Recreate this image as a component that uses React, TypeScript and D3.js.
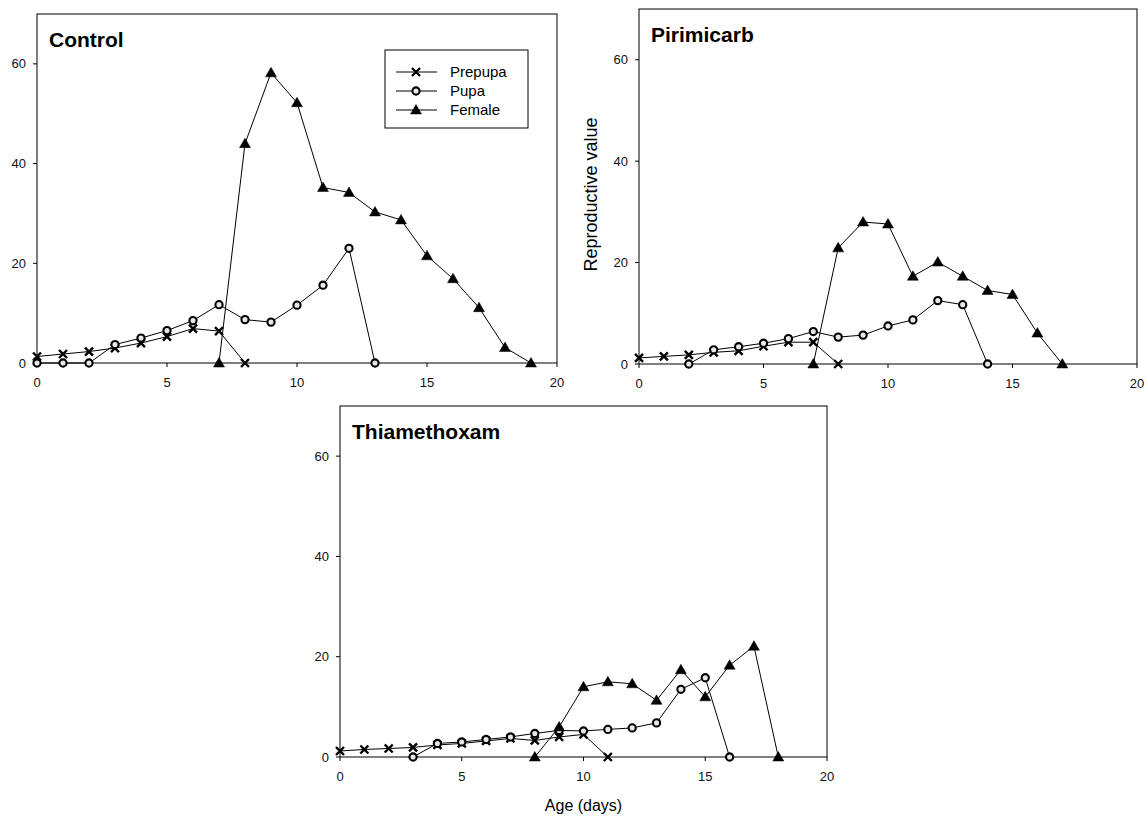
import React from "react";
import * as d3 from "d3";

const xTicks = [0, 5, 10, 15, 20];
const yTicks = [0, 20, 40, 60];
const stageNames = ["Prepupa", "Pupa", "Female"];

// Control
const controlPrepupaAge = [0, 1, 2, 3, 4, 5, 6, 7, 8];
const controlPrepupa = [1.3, 1.8, 2.3, 3.0, 4.0, 5.3, 6.9, 6.4, 0];
const controlPupaAge = [0, 1, 2, 3, 4, 5, 6, 7, 8, 9, 10, 11, 12, 13];
const controlPupa = [0, 0, 0, 3.7, 5.0, 6.5, 8.5, 11.7, 8.7, 8.2, 11.6, 15.6, 23.0, 0];
const controlFemaleAge = [7, 8, 9, 10, 11, 12, 13, 14, 15, 16, 17, 18, 19];
const controlFemale = [0, 44, 58.2, 52.2, 35.2, 34.2, 30.3, 28.7, 21.5, 16.9, 11.1, 3.1, 0];

// Pirimicarb
const pirimicarbPrepupaAge = [0, 1, 2, 3, 4, 5, 6, 7, 8];
const pirimicarbPrepupa = [1.2, 1.5, 1.8, 2.3, 2.6, 3.5, 4.3, 4.3, 0];
const pirimicarbPupaAge = [2, 3, 4, 5, 6, 7, 8, 9, 10, 11, 12, 13, 14];
const pirimicarbPupa = [0, 2.8, 3.4, 4.1, 5.0, 6.4, 5.3, 5.7, 7.5, 8.7, 12.5, 11.7, 0];
const pirimicarbFemaleAge = [7, 8, 9, 10, 11, 12, 13, 14, 15, 16, 17];
const pirimicarbFemale = [0, 22.9, 28.0, 27.6, 17.3, 20.1, 17.3, 14.5, 13.7, 6.1, 0];

// Thiamethoxam
const thiamethoxamPrepupaAge = [0, 1, 2, 3, 4, 5, 6, 7, 8, 9, 10, 11];
const thiamethoxamPrepupa = [1.2, 1.5, 1.7, 1.9, 2.4, 2.7, 3.2, 3.7, 3.3, 4.0, 4.5, 0];
const thiamethoxamPupaAge = [3, 4, 5, 6, 7, 8, 9, 10, 11, 12, 13, 14, 15, 16];
const thiamethoxamPupa = [0, 2.7, 3.0, 3.5, 4.0, 4.7, 5.3, 5.2, 5.5, 5.8, 6.8, 13.5, 15.8, 0];
const thiamethoxamFemaleAge = [8, 9, 10, 11, 12, 13, 14, 15, 16, 17, 18];
const thiamethoxamFemale = [0, 6.0, 14.0, 15.0, 14.6, 11.3, 17.4, 12.0, 18.3, 22.1, 0];

const FONT = "Arial, 'Liberation Sans', sans-serif";

const zip = (ages, vals) => ages.map((a, i) => [a, vals[i]]);

const Marker = ({ kind, x, y }) => {
  if (kind === "Prepupa") {
    const r = 4;
    return (
      <path
        d={`M${x - r},${y - r}L${x + r},${y + r}M${x - r},${y + r}L${x + r},${y - r}`}
        stroke="#000"
        strokeWidth={2.4}
        fill="none"
      />
    );
  }
  if (kind === "Pupa") {
    return <circle cx={x} cy={y} r={3.6} fill="#e8e8e8" stroke="#000" strokeWidth={2.1} />;
  }
  return (
    <path
      d={`M${x},${y - 5.5}L${x + 5.5},${y + 4}L${x - 5.5},${y + 4}Z`}
      fill="#000"
      stroke="#000"
      strokeWidth={0.5}
    />
  );
};

const Panel = ({ box, title, series, legend = false, yLabel = null, xLabel = null }) => {
  const x = d3.scaleLinear().domain([0, 20]).range([box.left, box.right]);
  const y = d3.scaleLinear().domain([0, 70]).range([box.bottom, box.top]);
  const line = d3
    .line()
    .x((d) => x(d[0]))
    .y((d) => y(d[1]));

  return (
    <g fontFamily={FONT}>
      {series.map((s, i) => (
        <path key={"l" + i} d={line(s.points)} fill="none" stroke="#000" strokeWidth={1} />
      ))}
      {/* frame */}
      <rect
        x={box.left}
        y={box.top}
        width={box.right - box.left}
        height={box.bottom - box.top}
        fill="none"
        stroke="#000"
        strokeWidth={1}
      />
      {yTicks.map((t) => (
        <g key={"y" + t}>
          <line x1={box.left - 4} x2={box.left} y1={y(t)} y2={y(t)} stroke="#000" />
          <text x={box.left - 11} y={y(t)} dy="0.35em" textAnchor="end" fontSize={13} fill="#111">
            {t}
          </text>
        </g>
      ))}
      {xTicks.map((t) => (
        <g key={"x" + t}>
          <line x1={x(t)} x2={x(t)} y1={box.bottom} y2={box.bottom + 4} stroke="#000" />
          <text x={x(t)} y={box.bottom + 19} dy="0.35em" textAnchor="middle" fontSize={13} fill="#111">
            {t}
          </text>
        </g>
      ))}
      {series.map((s, i) =>
        s.points.map((p, j) => <Marker key={`m${i}-${j}`} kind={s.name} x={x(p[0])} y={y(p[1])} />)
      )}
      <text x={box.left + 12} y={box.top + 33} fontSize={21} fontWeight="bold" fill="#000">
        {title}
      </text>
      {legend && (
        <g>
          <rect x={385} y={50} width={143} height={78} fill="#fff" stroke="#000" strokeWidth={1} />
          {stageNames.map((n, i) => (
            <g key={n}>
              <line x1={396} x2={437} y1={72 + i * 19} y2={72 + i * 19} stroke="#000" />
              <Marker kind={n} x={416} y={72 + i * 19} />
              <text x={450} y={72 + i * 19} dy="0.35em" fontSize={15} fill="#000">
                {n}
              </text>
            </g>
          ))}
        </g>
      )}
      {yLabel && (
        <text
          transform={`translate(${box.left - 48},${(box.top + box.bottom) / 2 + 8}) rotate(-90)`}
          textAnchor="middle"
          dy="0.35em"
          fontSize={18}
          fill="#000"
        >
          {yLabel}
        </text>
      )}
      {xLabel && (
        <text
          x={(box.left + box.right) / 2}
          y={box.bottom + 48}
          dy="0.35em"
          textAnchor="middle"
          fontSize={16}
          fill="#000"
        >
          {xLabel}
        </text>
      )}
    </g>
  );
};

export default function App() {
  const control = [
    { name: "Prepupa", points: zip(controlPrepupaAge, controlPrepupa) },
    { name: "Pupa", points: zip(controlPupaAge, controlPupa) },
    { name: "Female", points: zip(controlFemaleAge, controlFemale) },
  ];
  const pirimicarb = [
    { name: "Prepupa", points: zip(pirimicarbPrepupaAge, pirimicarbPrepupa) },
    { name: "Pupa", points: zip(pirimicarbPupaAge, pirimicarbPupa) },
    { name: "Female", points: zip(pirimicarbFemaleAge, pirimicarbFemale) },
  ];
  const thiamethoxam = [
    { name: "Prepupa", points: zip(thiamethoxamPrepupaAge, thiamethoxamPrepupa) },
    { name: "Pupa", points: zip(thiamethoxamPupaAge, thiamethoxamPupa) },
    { name: "Female", points: zip(thiamethoxamFemaleAge, thiamethoxamFemale) },
  ];

  return (
    <svg
      width={1145}
      height={816}
      style={{ position: "absolute", left: 0, top: 0, background: "#fff" }}
    >
      <rect width={1145} height={816} fill="#fff" />
      <Panel box={{ left: 37, top: 14, right: 557, bottom: 363 }} title="Control" series={control} legend />
      <Panel
        box={{ left: 639, top: 9, right: 1137, bottom: 364 }}
        title="Pirimicarb"
        series={pirimicarb}
        yLabel="Reproductive value"
      />
      <Panel
        box={{ left: 340, top: 406, right: 827, bottom: 757 }}
        title="Thiamethoxam"
        series={thiamethoxam}
        xLabel="Age (days)"
      />
    </svg>
  );
}
